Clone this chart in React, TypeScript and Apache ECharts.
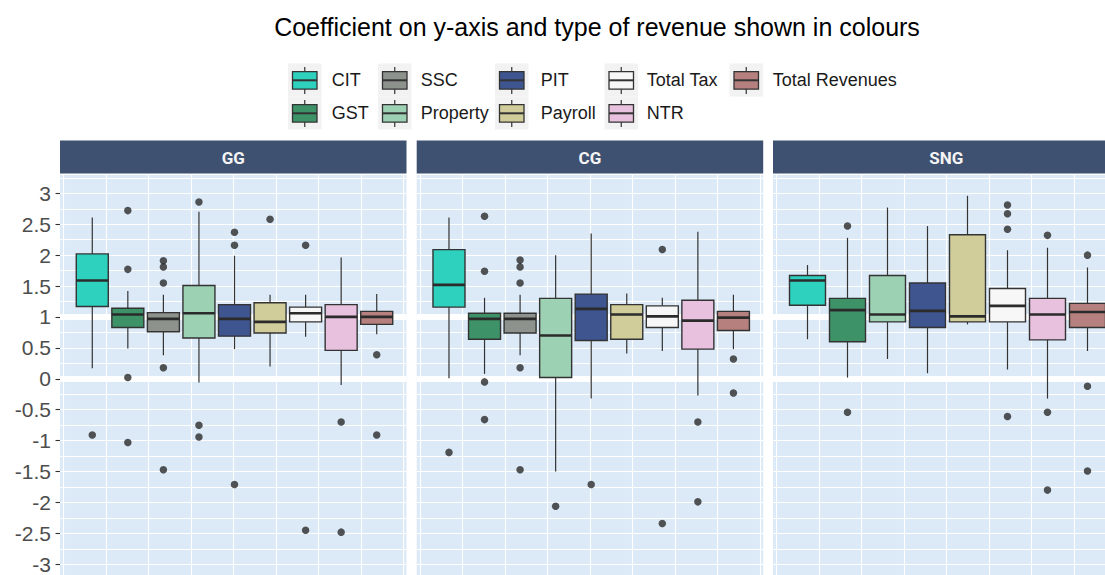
import React, { useEffect, useRef } from 'react';
import * as echarts from 'echarts';

// ---------------- data ----------------
const TITLE = 'Coefficient on y-axis and type of revenue shown in colours';
const TYPES = ['CIT', 'GST', 'SSC', 'Property', 'PIT', 'Payroll', 'Total Tax', 'NTR', 'Total Revenues'];
const TYPE_COLORS = ['#2DD1BE', '#3D9268', '#8D928D', '#9DD1B4', '#3E5590', '#D0CD9B', '#F7F7F7', '#E8C1DF', '#B5807E'];
const PANELS = ['GG', 'CG', 'SNG'];

// [lower whisker, Q1, median, Q3, upper whisker]
const GG_TYPES = ['CIT', 'GST', 'SSC', 'Property', 'PIT', 'Payroll', 'Total Tax', 'NTR', 'Total Revenues'];
const GG_STATS = [
  [0.17, 1.17, 1.59, 2.02, 2.61],
  [0.49, 0.83, 1.04, 1.14, 1.42],
  [0.38, 0.76, 0.97, 1.07, 1.36],
  [-0.06, 0.66, 1.06, 1.51, 2.70],
  [0.48, 0.69, 0.97, 1.20, 1.99],
  [0.20, 0.74, 0.92, 1.23, 1.36],
  [0.68, 0.92, 1.06, 1.16, 1.36],
  [-0.10, 0.46, 1.00, 1.20, 1.96],
  [0.72, 0.88, 1.00, 1.09, 1.37],
];
const GG_OUTLIERS: [string, number][] = [
  ['CIT', -0.91],
  ['GST', 2.72], ['GST', 1.77], ['GST', 0.02], ['GST', -1.03],
  ['SSC', 1.91], ['SSC', 1.81], ['SSC', 1.55], ['SSC', 0.18], ['SSC', -1.47],
  ['Property', 2.86], ['Property', -0.75], ['Property', -0.94],
  ['PIT', 2.37], ['PIT', 2.16], ['PIT', -1.71],
  ['Payroll', 2.58],
  ['Total Tax', 2.16], ['Total Tax', -2.45],
  ['NTR', -0.70], ['NTR', -2.48],
  ['Total Revenues', 0.39], ['Total Revenues', -0.91],
];

const CG_TYPES = ['CIT', 'GST', 'SSC', 'Property', 'PIT', 'Payroll', 'Total Tax', 'NTR', 'Total Revenues'];
const CG_STATS = [
  [0.01, 1.16, 1.52, 2.09, 2.61],
  [0.08, 0.64, 0.97, 1.06, 1.31],
  [0.38, 0.74, 0.97, 1.06, 1.36],
  [-1.50, 0.02, 0.70, 1.30, 2.00],
  [-0.32, 0.62, 1.13, 1.37, 2.35],
  [0.41, 0.64, 1.04, 1.20, 1.38],
  [0.45, 0.83, 1.01, 1.18, 1.31],
  [-0.27, 0.48, 0.94, 1.27, 2.38],
  [0.48, 0.78, 0.99, 1.09, 1.36],
];
const CG_OUTLIERS: [string, number][] = [
  ['CIT', -1.19],
  ['GST', 2.63], ['GST', 1.74], ['GST', -0.05], ['GST', -0.66],
  ['SSC', 1.92], ['SSC', 1.81], ['SSC', 1.55], ['SSC', 0.18], ['SSC', -1.47],
  ['Property', -2.06],
  ['PIT', -1.71],
  ['Total Tax', 2.09], ['Total Tax', -2.34],
  ['NTR', -0.70], ['NTR', -1.99],
  ['Total Revenues', 0.32], ['Total Revenues', -0.23],
];

const SNG_TYPES = ['CIT', 'GST', 'Property', 'PIT', 'Payroll', 'Total Tax', 'NTR', 'Total Revenues'];
const SNG_STATS = [
  [0.64, 1.19, 1.59, 1.67, 1.84],
  [0.02, 0.60, 1.11, 1.30, 2.28],
  [0.32, 0.92, 1.04, 1.67, 2.77],
  [0.09, 0.83, 1.10, 1.55, 2.47],
  [0.88, 0.92, 1.01, 2.33, 2.96],
  [0.15, 0.92, 1.18, 1.46, 2.08],
  [-0.32, 0.63, 1.04, 1.30, 2.12],
  [0.45, 0.83, 1.08, 1.22, 1.80],
];
const SNG_OUTLIERS: [string, number][] = [
  ['GST', 2.47], ['GST', -0.54],
  ['Total Tax', 2.81], ['Total Tax', 2.67], ['Total Tax', 2.42], ['Total Tax', -0.61],
  ['NTR', 2.32], ['NTR', -0.54], ['NTR', -1.80],
  ['Total Revenues', 2.00], ['Total Revenues', -0.12], ['Total Revenues', -1.49],
];

const Y_TICKS = [-3, -2.5, -2, -1.5, -1, -0.5, 0, 0.5, 1, 1.5, 2, 2.5, 3];
const REF_LINES = [0, 1];

// ---------------- layout ----------------
const Y_MIN = -3.5;
const Y_MAX = 3.31;
const PX_PER_UNIT = 61.83;
const ZERO_Y = 378.8;
const PANEL_TOP = ZERO_Y - Y_MAX * PX_PER_UNIT;
const PANEL_H = (Y_MAX - Y_MIN) * PX_PER_UNIT;
const PANEL_LEFT = [60, 416.7, 773];
const PANEL_W = 346.5;
const STRIP_TOP = 140.5;
const STRIP_H = 33;
const LEG_BG_X = [288, 378, 495, 604.5, 729.5];
const LEG_TEXT_X = [331.7, 420.7, 540.7, 646.7, 772.7];
const LEG_ROW_TOP = [63.5, 96.5];
const FONT = 'Liberation Sans, Arial, sans-serif';

const PANEL_DATA = [
  { types: GG_TYPES, stats: GG_STATS, outliers: GG_OUTLIERS },
  { types: CG_TYPES, stats: CG_STATS, outliers: CG_OUTLIERS },
  { types: SNG_TYPES, stats: SNG_STATS, outliers: SNG_OUTLIERS },
];

function colorOf(t: string) {
  return TYPE_COLORS[TYPES.indexOf(t)];
}

function buildOption() {
  const grid: any[] = [];
  const xAxis: any[] = [];
  const yAxis: any[] = [];
  const series: any[] = [];
  const graphic: any[] = [];

  const mkGrid = (o: any) => ({ outerBoundsMode: 'none', containLabel: false, ...o });

  PANELS.forEach((name, p) => {
    const L = PANEL_LEFT[p];
    const pd = PANEL_DATA[p];
    // grid A: background + horizontal grid lines
    const a = grid.length;
    grid.push(mkGrid({ left: L, top: PANEL_TOP, width: PANEL_W, height: PANEL_H, show: true, backgroundColor: '#DCEAF8', borderWidth: 0 }));
    xAxis.push({ type: 'value', gridIndex: a, min: 0, max: 1, show: false });
    yAxis.push({
      type: 'value', gridIndex: a, min: Y_MIN, max: Y_MAX, interval: 0.25,
      axisLabel: { show: false }, axisTick: { show: false }, axisLine: { show: false },
      splitLine: { show: true, lineStyle: { color: '#FFFFFF', width: 1 } },
    });
    series.push({
      type: 'line', xAxisIndex: a, yAxisIndex: a, data: [], z: 1, silent: true,
      markLine: {
        z: 1, silent: true, symbol: ['none', 'none'], label: { show: false },
        lineStyle: { color: '#FFFFFF', width: 6, type: 'solid' },
        data: REF_LINES.map((v) => ({ yAxis: v })),
      },
    });
    // grid B: vertical grid lines
    const b = grid.length;
    grid.push(mkGrid({ left: L + 3.3, top: PANEL_TOP, width: 340, height: PANEL_H }));
    xAxis.push({
      type: 'value', gridIndex: b, min: 0, max: 8, interval: 1,
      axisLabel: { show: false }, axisTick: { show: false }, axisLine: { show: false },
      splitLine: { show: true, lineStyle: { color: '#FFFFFF', width: 1.1 } },
    });
    yAxis.push({ type: 'value', gridIndex: b, min: Y_MIN, max: Y_MAX, show: false });
    // grid C: boxes
    const c = grid.length;
    grid.push(mkGrid({ left: L + 14.5, top: PANEL_TOP, width: 320, height: PANEL_H }));
    xAxis.push({ type: 'category', gridIndex: c, data: pd.types, show: false, boundaryGap: true });
    yAxis.push({ type: 'value', gridIndex: c, min: Y_MIN, max: Y_MAX, show: false });

    const types = pd.types;
    series.push({
      type: 'custom', name: name, xAxisIndex: c, yAxisIndex: c, z: 3,
      data: pd.stats.map((s, i) => [i, ...s]),
      encode: { x: 0, y: [1, 2, 3, 4, 5] },
      renderItem: (params: any, api: any) => {
        const idx = api.value(0);
        const lo = api.coord([idx, api.value(1)]);
        const q1 = api.coord([idx, api.value(2)]);
        const md = api.coord([idx, api.value(3)]);
        const q3 = api.coord([idx, api.value(4)]);
        const hi = api.coord([idx, api.value(5)]);
        const band = api.size([1, 0])[0];
        const w = band * 0.9;
        const cx = lo[0];
        const stroke = '#333333';
        return {
          type: 'group',
          children: [
            { type: 'line', shape: { x1: cx, y1: hi[1], x2: cx, y2: q3[1] }, style: { stroke, lineWidth: 1.2 } },
            { type: 'line', shape: { x1: cx, y1: q1[1], x2: cx, y2: lo[1] }, style: { stroke, lineWidth: 1.2 } },
            { type: 'rect', shape: { x: cx - w / 2, y: q3[1], width: w, height: q1[1] - q3[1] }, style: { fill: colorOf(types[idx]), stroke, lineWidth: 1.4 } },
            { type: 'line', shape: { x1: cx - w / 2, y1: md[1], x2: cx + w / 2, y2: md[1] }, style: { stroke: '#2B2B2B', lineWidth: 2.7 } },
          ],
        };
      },
    });
    series.push({
      type: 'scatter', name: name + ' outliers', xAxisIndex: c, yAxisIndex: c, z: 4,
      symbolSize: 7.5, itemStyle: { color: '#2B2B2B' },
      data: pd.outliers.map(([t, v]) => [types.indexOf(t), v]),
    });

    // strip
    graphic.push({ type: 'rect', shape: { x: L, y: STRIP_TOP, width: PANEL_W, height: STRIP_H }, style: { fill: '#3F5171' } });
    graphic.push({
      type: 'text', x: L + PANEL_W / 2, y: STRIP_TOP + STRIP_H / 2 + 1,
      style: { text: name, fill: '#F4F4F4', fontSize: 17, fontWeight: 'bold', fontFamily: 'Roboto, sans-serif', textAlign: 'center', textVerticalAlign: 'middle', align: 'center', verticalAlign: 'middle' },
    });
  });

  // y-axis labels
  const g = grid.length;
  grid.push(mkGrid({ left: PANEL_LEFT[0], top: PANEL_TOP, width: PANEL_W, height: PANEL_H }));
  xAxis.push({ type: 'value', gridIndex: g, show: false });
  yAxis.push({
    type: 'value', gridIndex: g, min: Y_MIN, max: Y_MAX,
    axisLine: { show: false }, splitLine: { show: false },
    axisTick: { show: true, customValues: Y_TICKS, length: 4.5, lineStyle: { color: '#333333', width: 1.1 } },
    axisLabel: { show: true, customValues: Y_TICKS, margin: 9, fontSize: 21, lineHeight: 16, color: '#4D4D4D', fontFamily: FONT, formatter: (v: number) => String(v) },
  });

  // legend
  TYPES.forEach((t, i) => {
    const col = Math.floor(i / 2);
    const row = i % 2;
    const bx = LEG_BG_X[col];
    const by = LEG_ROW_TOP[row];
    const cy = by + 16.8;
    const cx = bx + 16.75;
    graphic.push({ type: 'rect', shape: { x: bx, y: by, width: 33.5, height: 33 }, style: { fill: '#F2F2F2' } });
    graphic.push({ type: 'line', shape: { x1: cx, y1: by + 3.5, x2: cx, y2: by + 30.5 }, style: { stroke: '#333333', lineWidth: 1.2 } });
    graphic.push({ type: 'rect', shape: { x: bx + 4.5, y: cy - 8.75, width: 24.5, height: 17.5 }, style: { fill: TYPE_COLORS[i], stroke: '#333333', lineWidth: 1.3 } });
    graphic.push({ type: 'line', shape: { x1: bx + 4.5, y1: cy, x2: bx + 29, y2: cy }, style: { stroke: '#333333', lineWidth: 2 } });
    graphic.push({
      type: 'text', x: LEG_TEXT_X[col], y: cy,
      style: { text: t, fill: '#1A1A1A', fontSize: 18, fontFamily: FONT, textAlign: 'left', textVerticalAlign: 'middle', align: 'left', verticalAlign: 'middle' },
    });
  });

  return {
    animation: false,
    backgroundColor: '#FFFFFF',
    title: {
      text: TITLE, left: 592, top: 9, textAlign: 'center',
      textStyle: { fontSize: 25, fontWeight: 'normal', color: '#000000', fontFamily: FONT },
    },
    grid, xAxis, yAxis, series, graphic,
  };
}

export default function App() {
  const ref = useRef<HTMLDivElement>(null);
  useEffect(() => {
    if (!ref.current) return;
    const chart = echarts.init(ref.current, undefined, { renderer: 'svg' });
    chart.setOption(buildOption() as any);
    return () => chart.dispose();
  }, []);
  return <div ref={ref} style={{ position: 'absolute', left: 0, top: 0, width: 1105, height: 575 }} />;
}
